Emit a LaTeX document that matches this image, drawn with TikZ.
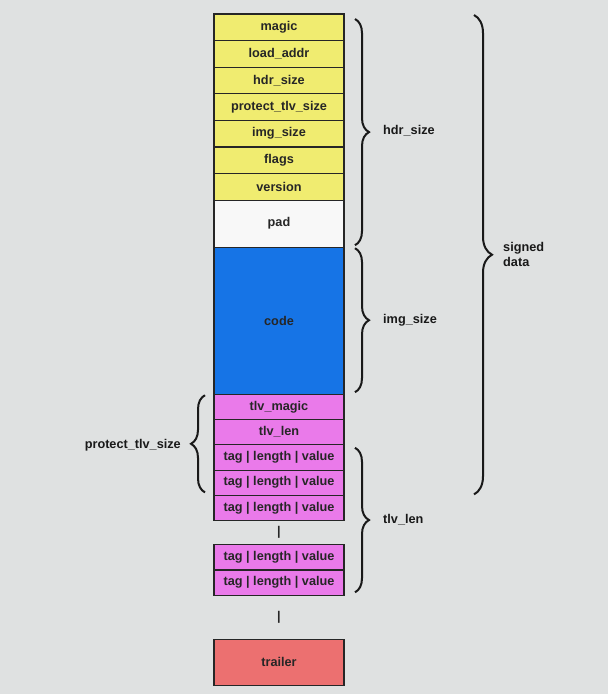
\documentclass[tikz,border=0pt]{standalone}
\usepackage{fontspec}
\setmainfont{Liberation Sans}
\usepackage{xcolor}
\usetikzlibrary{positioning,calc,decorations.pathreplacing}
\definecolor{fondo}{RGB}{223,225,225}
\definecolor{amarillo}{RGB}{240,236,112}
\definecolor{azul}{RGB}{22,116,230}
\definecolor{rosa}{RGB}{234,122,234}
\definecolor{rojo}{RGB}{236,112,112}
\definecolor{blanco}{RGB}{248,248,248}

\begin{document}
\begin{tikzpicture}[
  x=1pt, y=1pt,
  node distance=0pt,
  campo/.style={rectangle, draw=black!85, line width=1.1pt, outer sep=0pt, inner sep=0pt, minimum width=130pt, font=\fontsize{12.7}{15}\selectfont\bfseries, text=black!85},
  cajah/.style={campo, fill=amarillo, minimum height=26.6pt},
  cajat/.style={campo, fill=rosa, minimum height=25.3pt},
  hueco/.style={rectangle, minimum width=130pt, inner sep=0pt, outer sep=0pt, font=\fontsize{12.7}{15}\selectfont\bfseries, text=black!85},
  llave/.style={decorate, decoration={brace, amplitude=14pt}, line width=2pt, black!90},
  etiqueta/.style={font=\fontsize{12.7}{15}\selectfont\bfseries, text=black!90, inner sep=0pt, align=left}
]
\fill[fondo] (0,0) rectangle (608,-694);
\useasboundingbox (0,0) rectangle (608,-694);

% cabecera
\node[cajah, anchor=north west] (magic) at (214,-14) {magic};
\node[cajah, below=of magic] (loadaddr) {load\_addr};
\node[cajah, below=of loadaddr] (hdrsize) {hdr\_size};
\node[cajah, below=of hdrsize] (protsize) {protect\_tlv\_size};
\node[cajah, below=of protsize] (imgsize) {img\_size};
\node[cajah, below=of imgsize] (flags) {flags};
\node[cajah, below=of flags] (version) {version};
\node[campo, fill=blanco, minimum height=47pt, below=of version] (pad) {pad};

% imagen
\node[campo, fill=azul, minimum height=147pt, below=of pad] (code) {code};

% tlv
\node[cajat, below=of code] (tlvmagic) {tlv\_magic};
\node[cajat, below=of tlvmagic] (tlvlen) {tlv\_len};
\node[cajat, below=of tlvlen] (tagA) {tag | length | value};
\node[cajat, below=of tagA] (tagB) {tag | length | value};
\node[cajat, below=of tagB] (tagC) {tag | length | value};
\node[hueco, minimum height=24pt, below=of tagC] (sepA) {|};
\node[cajat, below=of sepA] (tagD) {tag | length | value};
\node[cajat, below=of tagD] (tagE) {tag | length | value};
\node[hueco, minimum height=44pt, below=of tagE] (sepB) {|};
\node[campo, fill=rojo, minimum height=46pt, below=of sepB] (trailer) {trailer};

% llaves
\draw[llave] ([xshift=11pt,yshift=-5pt]magic.north east) -- ([xshift=11pt,yshift=2pt]pad.south east);
\draw[llave] ([xshift=11pt,yshift=-1pt]code.north east) -- ([xshift=11pt,yshift=2pt]code.south east);
\draw[llave] ([xshift=11pt,yshift=-3pt]tagA.north east) -- ([xshift=11pt,yshift=3pt]tagE.south east);
\draw[llave, decoration={mirror}] ([xshift=-9pt,yshift=-1pt]tlvmagic.north west) -- ([xshift=-9pt,yshift=3pt]tagB.south west);
\draw[llave, decoration={amplitude=18pt}] ([xshift=130pt,yshift=-1pt]magic.north east) -- ([xshift=130pt,yshift=1pt]tagB.south east);

\node[etiqueta, anchor=west] (lblhdr) at ($(magic.north east)!.5!(pad.south east) + (39pt,0)$) {hdr\_size};
\node[etiqueta, anchor=west] (lblimg) at ($(code.east) + (39pt,0)$) {img\_size};
\node[etiqueta, anchor=west] (lbltlv) at ($(tagA.north east)!.5!(tagE.south east) + (39pt,0)$) {tlv\_len};
\node[etiqueta, anchor=east] (lblprot) at ($(tlvmagic.north west)!.5!(tagB.south west) + (-33pt,0)$) {protect\_tlv\_size};
\node[etiqueta, anchor=west] (lblsigned) at ($(magic.north east)!.5!(tagB.south east) + (159pt,0)$) {signed\\data};
\end{tikzpicture}
\end{document}
